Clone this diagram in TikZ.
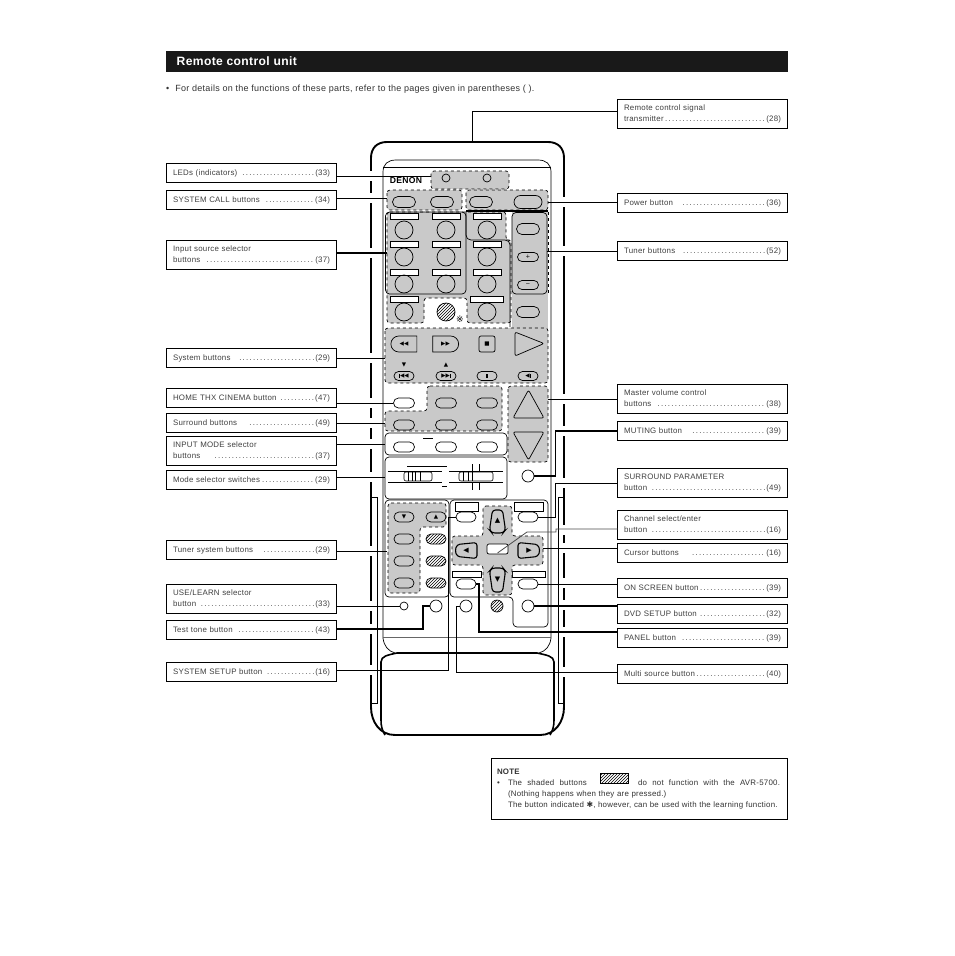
\documentclass[tikz,border=0pt]{standalone}
\usepackage{fontspec}
\setmainfont[LetterSpace=3]{Liberation Sans}
\newfontfamily\symfont{DejaVu Sans}
\usetikzlibrary{positioning,patterns,shapes.misc}
\definecolor{panelgray}{gray}{0.79}
\newcommand{\labfont}{\fontsize{7.9}{11}\selectfont}
\newcommand{\iconfont}{\symfont\fontsize{5.6}{6}\selectfont}
\newcommand{\dotline}[2]{\leavevmode\hbox to 157pt{#1\dotfill(#2)}}
\newcommand{\vbar}{\rule{.8pt}{4pt}}

\begin{document}
\begin{tikzpicture}[x=1pt,y=-1pt,
  lab/.style={draw,line width=.9pt,text width=157pt,inner xsep=6.5pt,inner ysep=0pt,outer sep=0pt,minimum height=19pt,align=left,font=\labfont,text=black!75},
  lab2/.style={lab,minimum height=29pt},
  oval/.style={draw,rounded rectangle,minimum width=21pt,minimum height=10pt,inner sep=0pt,line width=.7pt,font=\iconfont},
  rnd/.style={draw,circle,minimum size=18pt,inner sep=0pt,line width=.7pt},
  bar/.style={draw,fill=white,minimum width=28pt,minimum height=6pt,inner sep=0pt,line width=.7pt},
  hatched/.style={preaction={fill=white},pattern=north east lines},
  panel/.style={fill=panelgray,draw,dashed,rounded corners=3pt,line width=.7pt},
  grp/.style={draw,rounded corners=4pt,line width=.7pt},
  finger/.style={draw,rounded corners=3pt,line width=1.1pt},
  glyph/.style={inner sep=0pt,font=\symfont\fontsize{7}{7}\selectfont},
  lead/.style={line width=.8pt},
  leadk/.style={line width=1.4pt}
]
\useasboundingbox (0,0) rectangle (954,956);
\fill[white] (0,0) rectangle (954,956);

\node[fill=black!90,minimum width=622pt,minimum height=21pt,inner sep=0pt,outer sep=0pt] (header) at (477,61.5) {};
\node[anchor=west,inner sep=0pt,font=\bfseries\fontsize{12.1}{13}\selectfont,text=white] (title) at (176.5,61.5) {Remote control unit};
\node[anchor=west,inner sep=0pt,font=\fontsize{9}{10}\selectfont,text=black!80] (intro) at (166,89) {•\hspace{6pt}For details on the functions of these parts, refer to the pages given in parentheses ( ).};

% left column
\node[lab,anchor=north west] (ledsbox) at (166.5,163.5) {\dotline{LEDs (indicators)\hspace{4pt}}{33}};
\node[lab,below=8pt of ledsbox] (callbox) {\dotline{SYSTEM CALL buttons\hspace{4pt}}{34}};
\node[lab2,below=31pt of callbox] (inputbox) {Input source selector\\\dotline{buttons\hspace{4pt}}{37}};
\node[lab,below=79pt of inputbox] (sysbox) {\dotline{System buttons\hspace{8pt}}{29}};
\node[lab,below=21pt of sysbox] (homebox) {\dotline{HOME THX CINEMA button\hspace{3pt}}{47}};
\node[lab,below=6pt of homebox] (surrbox) {\dotline{Surround buttons\hspace{11pt}}{49}};
\node[lab2,below=4pt of surrbox] (modebox) {INPUT MODE selector\\\dotline{buttons\hspace{13pt}}{37}};
\node[lab,below=5pt of modebox] (switchbox) {\dotline{Mode selector switches}{29}};
\node[lab,below=51pt of switchbox] (tunsysbox) {\dotline{Tuner system buttons\hspace{10pt}}{29}};
\node[lab2,below=25pt of tunsysbox] (usebox) {USE/LEARN selector\\\dotline{button\hspace{4pt}}{33}};
\node[lab,below=7pt of usebox] (testbox) {\dotline{Test tone button\hspace{4pt}}{43}};
\node[lab,below=23pt of testbox] (setupbox) {\dotline{SYSTEM SETUP button\hspace{4pt}}{16}};

% right column
\node[lab2,anchor=north west] (signalbox) at (617.5,99.5) {Remote control signal\\\dotline{transmitter}{28}};
\node[lab,below=65pt of signalbox] (powerbox) {\dotline{Power button\hspace{8pt}}{36}};
\node[lab,below=29pt of powerbox] (tunerbox) {\dotline{Tuner buttons\hspace{7pt}}{52}};
\node[lab2,below=124pt of tunerbox] (volbox) {Master volume control\\\dotline{buttons\hspace{4pt}}{38}};
\node[lab,below=8pt of volbox] (mutebox) {\dotline{MUTING button\hspace{8pt}}{39}};
\node[lab2,below=28pt of mutebox] (parambox) {SURROUND PARAMETER\\\dotline{button\hspace{4pt}}{49}};
\node[lab2,below=13pt of parambox] (enterbox) {Channel select/enter\\\dotline{button\hspace{4pt}}{16}};
\node[lab,below=4pt of enterbox] (cursorbox) {\dotline{Cursor buttons\hspace{11pt}}{16}};
\node[lab,below=16pt of cursorbox] (screenbox) {\dotline{ON SCREEN button}{39}};
\node[lab,below=7pt of screenbox] (dvdbox) {\dotline{DVD SETUP button\hspace{2pt}}{32}};
\node[lab,below=5pt of dvdbox] (panelbox) {\dotline{PANEL button\hspace{4pt}}{39}};
\node[lab,below=17pt of panelbox] (multibox) {\dotline{Multi source button}{40}};

% body
\draw[line width=1.9pt] (371,707) -- (371,158) .. controls (371,148) and (377,142) .. (387,142) -- (548,142) .. controls (558,142) and (564,148) .. (564,158) -- (564,707) .. controls (564,722) and (555,735) .. (540,735) -- (395,735) .. controls (380,735) and (371,722) .. (371,707);
\foreach \y in {176,198,253,358,403,423,444,477,551,606,629,670}
  \fill[white] (369,\y-5) rectangle (373,\y+5);
\foreach \y in {202,251,399,431,483,530,548,583,605,632,672}
  \fill[white] (562,\y-5) rectangle (566,\y+5);
\draw[line width=.7pt] (371,497) -- (377,497) -- (377,703) -- (371,703);
\draw[line width=.7pt] (564,497) -- (558,497) -- (558,703) -- (564,703);
\draw[line width=.7pt] (383,638) -- (383,172) .. controls (383,164) and (388,160) .. (396,160) -- (538,160) .. controls (546,160) and (551,164) .. (551,172) -- (551,638);
\draw[line width=.7pt] (383,167) -- (551,167);
\draw[line width=.5pt,black!60] (383,637) -- (551,637);
\draw[line width=.7pt] (383,638) .. controls (384,646) and (388,651) .. (395,653);
\draw[line width=.7pt] (551,638) .. controls (550,646) and (546,651) .. (539,653);
\draw[line width=1.6pt] (385,735) .. controls (382,730) and (381,726) .. (381,720) -- (381,662) .. controls (381,656) and (388,655) .. (397,653) -- (537,653) .. controls (546,655) and (554,656) .. (554,662) -- (554,720) .. controls (554,726) and (553,730) .. (550,735);

% upper panels
\draw[panel] (431,171) rectangle (509,189);
\node[inner sep=0pt,font=\bfseries\fontsize{8.6}{9}\selectfont] (denon) at (406,181) {DENON};
\node[rnd,minimum size=8pt] (ledleft) at (446,178) {};
\node[rnd,minimum size=8pt] (ledright) at (487,178) {};
\draw[panel] (387,190) rectangle (462,210);
\draw[panel] (466,190) rectangle (548,210);
\node[oval,minimum width=23pt,minimum height=11pt] (calla) at (404,202) {};
\node[oval,minimum width=23pt,minimum height=11pt] (callb) at (442,202) {};
\node[oval,minimum width=23pt,minimum height=11pt] (callc) at (481,202) {};
\node[oval,minimum width=28pt,minimum height=13pt] (power) at (528,202) {};

\draw[panel] (387,212) -- (506,212) -- (506,240) -- (511,240) -- (511,323) -- (467,323) -- (467,298) -- (424,298) -- (424,323) -- (387,323) -- cycle;
\fill[panelgray] (512,212) rectangle (548,330);
\draw[line width=.7pt,dashed] (548,212) -- (548,294);
\draw[grp] (385.5,212) rectangle (466,294);
\draw[line width=1.3pt] (466,211) -- (548,211);
\draw[line width=.7pt] (466,211) -- (466,235) .. controls (466,238) and (468,240) .. (471,240) -- (505,240) .. controls (508,240) and (510,242) .. (510,245) -- (510,327);
\draw[grp] (512,212.5) rectangle (547,294);
\foreach \c/\x in {a/404,b/446,c/487}{
  \foreach \r/\y/\u in {1/230/216,2/257/244,3/284/272}{
    \node[bar] (bar\c\r) at (\x,\u) {};
    \node[rnd] (in\c\r) at (\x,\y) {};
  }
}
\node[bar] (bara4) at (404,299) {};
\node[rnd] (ina4) at (404,312) {};
\node[rnd,hatched] (inb4) at (446,312) {};
\node[inner sep=0pt,font=\symfont\fontsize{9}{9}\selectfont] (star) at (460,319) {※};
\node[bar,minimum width=33pt] (barc4) at (487,299) {};
\node[rnd] (inc4) at (487,312) {};
\node[oval,minimum width=23pt,minimum height=11pt] (tuna) at (528,229) {};
\node[oval,minimum height=9pt] (tunb) at (528,257) {+};
\node[oval,minimum height=9pt] (tunc) at (528,285) {−};
\node[oval,minimum width=23pt,minimum height=11pt] (tund) at (528,312) {};

% transport
\draw[panel] (385,328) rectangle (548,383);
\node[oval,rounded rectangle east arc=none,minimum width=26pt,minimum height=16pt] (rew) at (404,344) {◀◀};
\node[oval,rounded rectangle west arc=none,minimum width=26pt,minimum height=16pt] (fwd) at (445.5,344) {▶▶};
\node[draw,rounded corners=2pt,minimum size=16pt,inner sep=0pt,line width=.7pt,font=\iconfont] (stop) at (487,344) {■};
\draw[line width=.7pt,rounded corners=2pt] (515,332) -- (544,343.5) -- (515,356) -- cycle;
\node[inner sep=0pt,font=\iconfont] (tridown) at (404,365) {▼};
\node[inner sep=0pt,font=\iconfont] (triup) at (446,365) {▲};
\node[oval,minimum width=20pt,minimum height=9pt] (skipb) at (404,376) {\vbar◀◀};
\node[oval,minimum width=20pt,minimum height=9pt] (skipf) at (446,376) {▶▶\vbar};
\node[oval,minimum width=20pt,minimum height=9pt] (pause) at (487,376) {\vbar\,\vbar};
\node[oval,minimum width=20pt,minimum height=9pt] (stepb) at (528,376) {◀\vbar};

% surround
\draw[panel] (427,386) -- (502,386) -- (502,431) -- (385,431) -- (385,411) -- (427,411) -- cycle;
\foreach \n/\x in {a/404,b/446,c/487}{
  \node[oval] (surr\n) at (\x,425) {};
  \node[oval] (mode\n) at (\x,447) {};
}
\node[oval] (home) at (404,403) {};
\node[oval] (upper) at (446,403) {};
\node[oval] (upperb) at (487,403) {};
\draw[grp] (385,433) rectangle (507,455);
\draw[line width=.9pt] (423,438) -- (433,438);

% switches
\draw[grp] (385,457) rectangle (507,499);
\draw[line width=.6pt] (407,466) -- (447,466);
\draw[line width=.6pt] (388,471) -- (442,471);
\draw[line width=.6pt] (388,482) -- (442,482);
\draw[line width=.9pt] (442,486) -- (447,486);
\draw[line width=.6pt] (449,471) -- (503,471);
\draw[line width=.6pt] (449,482) -- (503,482);
\foreach \x in {472,479}{
  \draw[line width=.6pt] (\x,464) -- (\x,475);
  \draw[line width=.6pt] (\x,483) -- (\x,490);
}
\node[draw,fill=white,rounded corners=2pt,minimum width=28pt,minimum height=9pt,inner sep=0pt,line width=.6pt] (swa) at (418,476.5) {};
\node[draw,fill=white,rounded corners=2pt,minimum width=34pt,minimum height=9pt,inner sep=0pt,line width=.6pt] (swb) at (476,476.5) {};
\foreach \x in {408,412,415,420}
  \draw[line width=.6pt] (\x,472) -- (\x,481);
\foreach \x in {463,468,472}
  \draw[line width=.6pt] (\x,472) -- (\x,481);

% volume
\draw[panel] (508,386) rectangle (548,462);
\draw[line width=.7pt,rounded corners=2pt] (528.5,390) -- (544,418) -- (513,418) -- cycle;
\draw[line width=.7pt,rounded corners=2pt] (513,432) -- (544,432) -- (528.5,460) -- cycle;
\node[rnd,minimum size=12pt] (mute) at (528,476) {};

% tuner system
\draw[grp] (385,500) rectangle (449,597);
\draw[panel] (388,503) -- (446,503) -- (446,527) -- (420,527) -- (420,593) -- (388,593) -- cycle;
\node[oval,minimum width=20pt] (tsdown) at (404,517) {▼};
\node[oval,minimum width=20pt] (tsup) at (436,517) {▲};
\foreach \n/\y in {a/539,b/561,c/583}{
  \node[oval,minimum width=20pt] (ts\n) at (404,\y) {};
  \node[oval,minimum width=20pt,hatched] (tsh\n) at (436,\y) {};
}
\node[rnd,minimum size=8pt] (learn) at (404,606) {};
\node[rnd,minimum size=12pt] (tone) at (436,606) {};

% cursor group
\draw[grp] (450,500) -- (548,500) -- (548,627) -- (513,627) -- (513,597) -- (450,597) -- cycle;
\node[bar,minimum width=23pt,minimum height=9pt] (barsetup) at (466.5,506.5) {};
\node[bar,minimum width=29pt,minimum height=9pt] (barparam) at (528.5,506.5) {};
\node[bar,minimum width=29pt] (barpanel) at (466.5,574.5) {};
\node[bar,minimum width=33pt] (barscreen) at (528.5,574.5) {};
\draw[panel] (483,506) -- (512,506) -- (512,536) -- (543,536) -- (543,565) -- (512,565) -- (512,595) -- (483,595) -- (483,565) -- (452,565) -- (452,536) -- (483,536) -- cycle;
\draw[finger] (489.5,530) -- (492.5,510) -- (502.5,510) -- (505.5,530) -- (503,533) -- (492,533) -- cycle;
\draw[finger] (489.5,571) -- (492,568) -- (503,568) -- (505.5,571) -- (502.5,592) -- (492.5,592) -- cycle;
\draw[finger] (455,550.5) -- (457,544.5) -- (477,542.5) -- (477,558.5) -- (457,556.5) -- cycle;
\draw[finger] (540,550.5) -- (538,544.5) -- (518,542.5) -- (518,558.5) -- (538,556.5) -- cycle;
\node[glyph] (curup) at (497.5,521) {▲};
\node[glyph] (curdown) at (497.5,580) {▼};
\node[glyph] (curleft) at (466,550.5) {◀};
\node[glyph] (curright) at (529,550.5) {▶};
\node[draw,fill=white,rounded corners=2pt,minimum width=21pt,minimum height=10pt,inner sep=0pt,line width=.7pt] (enter) at (497.5,549) {};
\node[oval,minimum width=20pt] (setup) at (466,517) {};
\node[oval,minimum width=20pt] (param) at (528,517) {};
\node[oval,minimum width=20pt] (panelbtn) at (466,584) {};
\node[oval,minimum width=20pt] (screen) at (528,584) {};
\node[rnd,minimum size=12pt] (multi) at (466,606) {};
\node[rnd,minimum size=12pt,hatched] (dimmed) at (497,606) {};
\node[rnd,minimum size=12pt] (dvd) at (528,606) {};

% left leaders
\coordinate (ledsend) at (431,176);
\coordinate (callend) at (387,198);
\coordinate (inputend) at (387,253);
\coordinate (sysend) at (385,358);
\coordinate (surrend) at (385,423);
\coordinate (modeend) at (385,444);
\coordinate (switchend) at (385,477);
\coordinate (tunsysend) at (387,551);
\coordinate (testknee) at (423,629);
\coordinate (setupknee) at (448,670);
\draw[lead] (ledsbox.east |- ledsend) -- (ledsend);
\draw[lead] (callbox.east |- callend) -- (callend);
\draw[leadk] (inputbox.east |- inputend) -- (inputend);
\draw[lead] (sysbox.east |- sysend) -- (sysend);
\draw[lead] (homebox.east |- home) -- (home.west);
\draw[lead] (surrbox.east |- surrend) -- (surrend);
\draw[lead] (modebox.east |- modeend) -- (modeend);
\draw[lead] (switchbox.east |- switchend) -- (switchend);
\draw[lead] (tunsysbox.east |- tunsysend) -- (tunsysend);
\draw[lead] (usebox.east |- learn) -- (learn.west);
\draw[leadk] (testbox.east |- testknee) -- (testknee) |- (tone.west);
\draw[lead] (setupbox.east |- setupknee) -- (setupknee) |- (setup.west);

% right leaders
\coordinate (signalknee) at (472.5,111);
\coordinate (signalend) at (472.5,142);
\coordinate (powerend) at (548,202);
\coordinate (tunerend) at (547,251);
\coordinate (volend) at (548,399);
\coordinate (muteknee) at (555.5,431);
\coordinate (paramknee) at (555.5,483);
\coordinate (enterknee) at (556,529);
\coordinate (enterbend) at (527,532);
\coordinate (enterend) at (497.5,553);
\coordinate (cursorend) at (543,548);
\coordinate (panelknee) at (479,632);
\coordinate (multiknee) at (456,672);
\draw[lead] (signalbox.west |- signalknee) -- (signalknee) -- (signalend);
\draw[lead] (powerbox.west |- powerend) -- (powerend);
\draw[lead] (tunerbox.west |- tunerend) -- (tunerend);
\draw[lead] (volbox.west |- volend) -- (volend);
\draw[leadk] (mutebox.west |- muteknee) -- (muteknee) |- (mute.east);
\draw[lead] (parambox.west |- paramknee) -- (paramknee) |- (param.east);
\draw[lead,black!70] (enterbox.west |- enterknee) -- (enterknee) -- (enterknee |- enterbend) -- (enterbend) -- (enterend);
\draw[lead] (cursorbox.west |- cursorend) -- (cursorend);
\draw[lead] (screenbox.west |- screen) -- (screen.east);
\draw[leadk] (dvdbox.west |- dvd) -- (dvd.east);
\draw[leadk] (panelbox.west |- panelknee) -- (panelknee) |- (panelbtn.east);
\draw[lead] (multibox.west |- multiknee) -- (multiknee) |- (multi.west);

% note
\node[draw,line width=.9pt,text width=285pt,inner xsep=5.5pt,inner ysep=0pt,outer sep=0pt,minimum height=61pt,align=left,font=\labfont,text=black!80] (note) at (639.5,789) {{\bfseries NOTE}\\\leavevmode\hbox to 283pt{\spaceskip=0pt\hbox to 11pt{•\hfil}The shaded buttons\hspace{46pt} do not function with the AVR-5700.}\\\hspace*{11pt}(Nothing happens when they are pressed.)\\\hspace*{11pt}The button indicated {\symfont ✱}, however, can be used with the learning function.};
\node[draw,hatched,minimum width=28pt,minimum height=10pt,inner sep=0pt,line width=.7pt] (sample) at (614,778) {};
\end{tikzpicture}
\end{document}
